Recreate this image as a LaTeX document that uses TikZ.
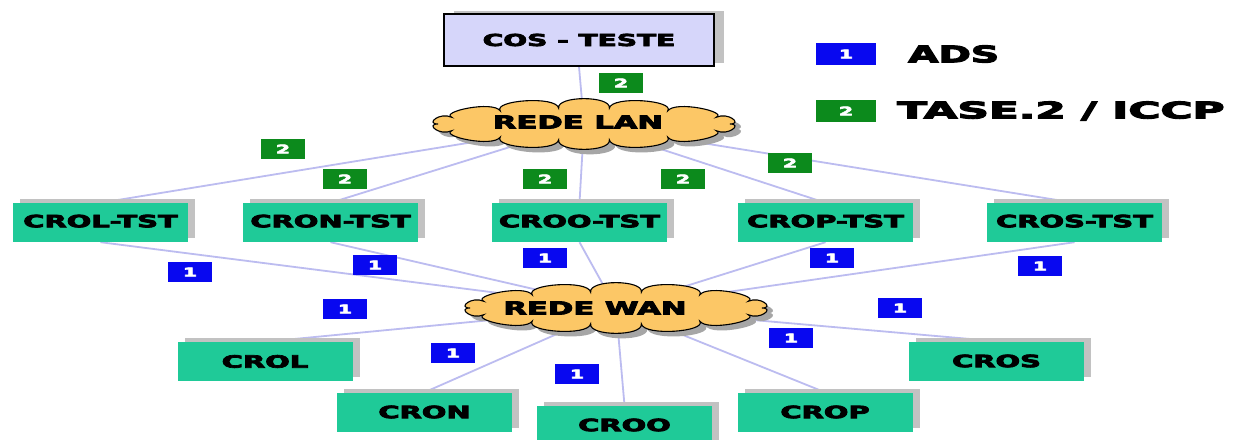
\documentclass[tikz,border=0pt]{standalone}
\usepackage{fontspec}
\setmainfont{DejaVu Sans}[BoldFeatures={FakeBold=4}]
\usetikzlibrary{shadows}
\pgfdeclarelayer{back}
\pgfdeclarelayer{links}
\pgfsetlayers{back,links,main}

\definecolor{boxgreen}{HTML}{1FCA98}
\definecolor{boxlav}{HTML}{D6D6FA}
\definecolor{cloudfill}{HTML}{FCC766}
\definecolor{linkcol}{HTML}{BCBCF0}
\definecolor{adsblue}{HTML}{0808F0}
\definecolor{iccpgreen}{HTML}{0C8A1C}
\definecolor{shadowgray}{HTML}{C2C2C2}

% wide heavy lettering
\newcommand{\wt}[1]{\scalebox{1.7}[1]{#1}}

% scalloped outline of a network cloud, centred on the origin
\newcommand{\cloudoutline}{(146,0)
  \foreach \t [remember=\t as \s (initially 0)] in
    {25,55,80,100,125,155,180,205,235,260,280,305,335,360}
    { .. controls ({159*cos(\s)},{29*sin(\s)}) and ({159*cos(\t)},{29*sin(\t)})
      .. ({146*cos(\t)},{16*sin(\t)}) } -- cycle}

\tikzset{
  station/.style={fill=boxgreen, minimum width=175pt, minimum height=39pt,
    inner sep=0pt, font=\fontsize{17}{17}\selectfont\bfseries,
    drop shadow={shadow xshift=7pt, shadow yshift=4pt, fill=shadowgray, opacity=1}},
  server/.style={fill=boxlav, draw=black, line width=1.3pt, minimum width=270pt,
    minimum height=52pt, inner sep=0pt, font=\fontsize{16.5}{16.5}\selectfont\bfseries,
    drop shadow={shadow xshift=10pt, shadow yshift=3pt, fill=shadowgray, opacity=1}},
  hub/.style={inner sep=0pt, minimum size=1pt},
  netcloud/.pic={
    \fill[gray!70, shift={(6,5)}] \cloudoutline;
    \filldraw[fill=cloudfill, draw=black, line width=1.1pt] \cloudoutline;
  },
  netlabel/.style={font=\fontsize{18}{18}\selectfont\bfseries, inner sep=0pt},
  badge/.style={minimum width=44pt, minimum height=20pt, inner sep=0pt,
    text=white, font=\fontsize{12}{12}\selectfont\bfseries},
  ads/.style={badge, fill=adsblue},
  iccp/.style={badge, fill=iccpgreen},
  legtext/.style={font=\fontsize{23}{23}\selectfont\bfseries, anchor=west, inner sep=0pt},
  link/.style={draw=linkcol, line width=1.8pt}
}

\begin{document}
\begin{tikzpicture}[x=1pt, y=-1pt]
\begin{pgfonlayer}{back}
  \fill[white] (0,0) rectangle (1239,439);
\end{pgfonlayer}
\useasboundingbox (0,0) rectangle (1239,439);

% central server and networks
\node[server] (cos) at (579,40) {\wt{COS - TESTE}};
\node[hub] (lan) at (584,124) {};
\pic at (lan) {netcloud};
\node[netlabel] (lantxt) at (578,122) {\wt{REDE LAN}};
\node[hub] (wan) at (616,308) {};
\pic at (wan) {netcloud};
\node[netlabel] (wantxt) at (595,308) {\wt{REDE WAN}};

% test stations
\node[station] (lt) at (100.5,222.5) {\raisebox{3pt}{\wt{CROL-TST}}};
\node[station] (nt) at (330.5,222.5) {\raisebox{3pt}{\wt{CRON-TST}}};
\node[station] (ot) at (579.5,222.5) {\raisebox{3pt}{\wt{CROO-TST}}};
\node[station] (pt) at (825.5,222.5) {\raisebox{3pt}{\wt{CROP-TST}}};
\node[station] (st) at (1074.5,222.5) {\raisebox{3pt}{\wt{CROS-TST}}};

% operation centres
\node[station] (l) at (265,361.5) {\wt{CROL}};
\node[station] (n) at (424.5,412) {\wt{CRON}};
\node[station] (o) at (624.5,425) {\wt{CROO}};
\node[station] (p) at (825,412) {\wt{CROP}};
\node[station] (s) at (996.5,361) {\wt{CROS}};

% links
\begin{pgfonlayer}{links}
  \draw[link] (cos.south) -- (lan);
  \draw[link] (lt.north) -- (lan);
  \draw[link] (nt.north) -- (lan);
  \draw[link] (ot.north) -- (lan);
  \draw[link] (pt.north) -- (lan);
  \draw[link] (st.north) -- (lan);
  \draw[link] (lt.south) -- (wan);
  \draw[link] (nt.south) -- (wan);
  \draw[link] (ot.south) -- (wan);
  \draw[link] (pt.south) -- (wan);
  \draw[link] (st.south) -- (wan);
  \draw[link] (l.north) -- (wan);
  \draw[link] (n.north) -- (wan);
  \draw[link] (o.north) -- (wan);
  \draw[link] (p.north) -- (wan);
  \draw[link] (s.north) -- (wan);
\end{pgfonlayer}

% protocol badges
\node[iccp] (g0) at (621,83) {\wt{2}};
\node[iccp] (g1) at (283,149) {\wt{2}};
\node[iccp] (g2) at (345,179) {\wt{2}};
\node[iccp] (g3) at (545,179) {\wt{2}};
\node[iccp] (g4) at (683,179) {\wt{2}};
\node[iccp] (g5) at (790,163) {\wt{2}};

\node[ads] (b1) at (190,272) {\wt{1}};
\node[ads] (b2) at (375,265) {\wt{1}};
\node[ads] (b3) at (545,258) {\wt{1}};
\node[ads] (b4) at (832,258) {\wt{1}};
\node[ads] (b5) at (1040,266) {\wt{1}};
\node[ads] (b6) at (345,309) {\wt{1}};
\node[ads] (b7) at (453,353) {\wt{1}};
\node[ads] (b8) at (577,374) {\wt{1}};
\node[ads] (b9) at (791,338) {\wt{1}};
\node[ads] (b10) at (900,308) {\wt{1}};

% legend
\node[ads, minimum width=60pt, minimum height=22pt] (k1) at (846,54) {\wt{1}};
\node[legtext] (k1t) at (908,54) {\wt{ADS}};
\node[iccp, minimum width=60pt, minimum height=22pt] (k2) at (846,111) {\wt{2}};
\node[legtext] (k2t) at (897,111) {\scalebox{1.9}[1]{TASE.2 / ICCP}};
\end{tikzpicture}
\end{document}
